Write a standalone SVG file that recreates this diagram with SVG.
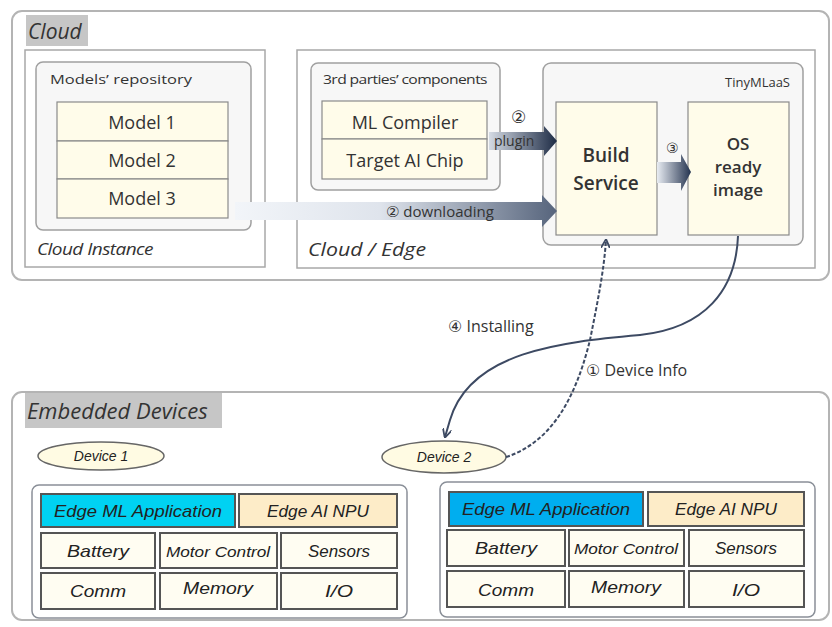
<svg xmlns="http://www.w3.org/2000/svg" width="832" height="627" viewBox="0 0 832 627">
<defs>
  <linearGradient id="gDown" x1="0" y1="0" x2="1" y2="0">
    <stop offset="0" stop-color="#f2f5f9"/>
    <stop offset="0.45" stop-color="#dfe4ec"/>
    <stop offset="1" stop-color="#56647c"/>
  </linearGradient>
  <linearGradient id="gPlug" x1="0" y1="0" x2="1" y2="0">
    <stop offset="0" stop-color="#d5dbe4"/>
    <stop offset="1" stop-color="#1d2b45"/>
  </linearGradient>
  <linearGradient id="g3" x1="0" y1="0" x2="1" y2="0">
    <stop offset="0" stop-color="#e8ecf2"/>
    <stop offset="1" stop-color="#24334f"/>
  </linearGradient>
  <marker id="ah" viewBox="0 0 10 10" refX="9" refY="5" markerWidth="9" markerHeight="9" orient="auto" markerUnits="userSpaceOnUse">
    <path d="M0,0 L10,5 L0,10" fill="none" stroke="#3d4a63" stroke-width="2"/>
  </marker>
  <style>
    .outer{fill:#fff;stroke:#b4b4b4;stroke-width:2}
    .panel{fill:#fff;stroke:#a8a8a8;stroke-width:1.5}
    .inner{fill:#f7f7f7;stroke:#a0a0a0;stroke-width:1.5}
    .cell{fill:#fffcea;stroke:#8a8a8a;stroke-width:1.2}
    .comp{fill:#fffdf2;stroke:#555;stroke-width:2}
    .t{font-family:"Open Sans","DejaVu Sans",sans-serif;fill:#333}
    .it{font-family:"Open Sans","DejaVu Sans",sans-serif;font-style:italic;fill:#333}
    .dev{font-family:"Liberation Sans","DejaVu Sans",sans-serif;font-style:italic;fill:#222;font-size:17px;text-anchor:middle}
    .lbl{fill:#c6c6c6}
    .conn{fill:none;stroke:#3d4a63;stroke-width:2}
  </style>
</defs>

<!-- Cloud region -->
<g id="cloud">
  <rect class="outer" x="12" y="11" width="817" height="269" rx="10"/>
  <rect class="lbl" x="26" y="15" width="62" height="31"/>
  <text class="it" x="28" y="39" font-size="21" fill="#444">Cloud</text>
</g>

<g id="cloud-instance">
  <rect class="panel" x="25" y="50" width="240" height="217"/>
  <text class="it" x="37" y="255" font-size="17" textLength="116" lengthAdjust="spacingAndGlyphs" letter-spacing="-0.5">Cloud Instance</text>
</g>

<g id="models-repository">
  <rect class="inner" x="36" y="62" width="215" height="168" rx="7"/>
  <text class="t" x="50" y="84" font-size="13" textLength="142" lengthAdjust="spacingAndGlyphs">Models’ repository</text>
</g>
<g id="model1">
  <rect class="cell" x="57" y="102" width="171" height="39"/>
  <text class="t" x="142" y="129" font-size="18" text-anchor="middle">Model 1</text>
</g>
<g id="model2">
  <rect class="cell" x="57" y="141" width="171" height="38"/>
  <text class="t" x="142" y="167" font-size="18" text-anchor="middle">Model 2</text>
</g>
<g id="model3">
  <rect class="cell" x="57" y="179" width="171" height="39"/>
  <text class="t" x="142" y="205" font-size="18" text-anchor="middle">Model 3</text>
</g>

<g id="cloud-edge">
  <rect class="panel" x="297" y="50" width="518" height="218"/>
  <text class="it" x="308" y="256" font-size="19" textLength="118" lengthAdjust="spacingAndGlyphs">Cloud / Edge</text>
</g>

<g id="third-parties">
  <rect class="inner" x="311" y="63" width="189" height="127" rx="7"/>
  <text class="t" x="323" y="84" font-size="13" textLength="164" lengthAdjust="spacingAndGlyphs" letter-spacing="-0.5">3rd parties’ components</text>
</g>
<g id="ml-compiler">
  <rect class="cell" x="322" y="101" width="165" height="38"/>
  <text class="t" x="405" y="129" font-size="18" text-anchor="middle">ML Compiler</text>
</g>
<g id="target-ai-chip">
  <rect class="cell" x="322" y="139" width="165" height="40"/>
  <text class="t" x="405" y="167" font-size="18" text-anchor="middle">Target AI Chip</text>
</g>

<g id="tinymlaas">
  <rect class="inner" x="543" y="63" width="260" height="182" rx="8"/>
  <text class="t" x="790" y="87" font-size="13" text-anchor="end">TinyMLaaS</text>
</g>
<g id="build-service">
  <rect class="cell" x="556" y="102" width="101" height="133"/>
  <text class="t" x="606" y="162" font-size="19" font-weight="600" text-anchor="middle">Build</text>
  <text class="t" x="606" y="190" font-size="19" font-weight="600" text-anchor="middle">Service</text>
</g>
<g id="os-ready-image">
  <rect class="cell" x="688" y="102" width="101" height="133"/>
  <text class="t" x="738" y="150" font-size="17" font-weight="600" text-anchor="middle">OS</text>
  <text class="t" x="738" y="173" font-size="17" font-weight="600" text-anchor="middle">ready</text>
  <text class="t" x="738" y="196" font-size="17" font-weight="600" text-anchor="middle">image</text>
</g>

<!-- Embedded devices region -->
<g id="embedded-devices">
  <rect class="outer" x="12" y="392" width="817" height="228" rx="10"/>
  <rect class="lbl" x="25" y="393" width="197" height="35"/>
  <text class="it" x="27" y="419" font-size="22" fill="#444">Embedded Devices</text>
</g>

<g id="device1">
  <ellipse cx="101" cy="456" rx="63" ry="14" fill="#fffbe3" stroke="#666" stroke-width="1.5"/>
  <text class="dev" x="101" y="461" style="font-size:14px">Device 1</text>
</g>
<g id="device2">
  <ellipse cx="444" cy="457" rx="62" ry="16" fill="#fffbe3" stroke="#666" stroke-width="1.5"/>
  <text class="dev" x="444" y="462" style="font-size:14px">Device 2</text>
</g>

<g id="device1-platform">
  <rect class="inner" x="32" y="485" width="375" height="133" rx="7" style="fill:#fff;stroke:#8a8f98"/>
  <rect class="comp" x="41" y="494" width="194" height="33" style="fill:#00d2f2"/>
  <text class="dev" x="138" y="517" textLength="168" lengthAdjust="spacingAndGlyphs">Edge ML Application</text>
  <rect class="comp" x="239" y="494" width="158" height="33" style="fill:#fdecc8"/>
  <text class="dev" x="318" y="517" textLength="102" lengthAdjust="spacingAndGlyphs">Edge AI NPU</text>
  <rect class="comp" x="41" y="533" width="114" height="35"/>
  <text class="dev" x="98" y="557" textLength="62" lengthAdjust="spacingAndGlyphs">Battery</text>
  <rect class="comp" x="160" y="533" width="117" height="35"/>
  <text class="dev" x="218" y="557" textLength="104" lengthAdjust="spacingAndGlyphs" style="font-size:15px">Motor Control</text>
  <rect class="comp" x="281" y="533" width="116" height="35"/>
  <text class="dev" x="339" y="557" textLength="62" lengthAdjust="spacingAndGlyphs">Sensors</text>
  <rect class="comp" x="41" y="573" width="114" height="36"/>
  <text class="dev" x="98" y="597" textLength="56" lengthAdjust="spacingAndGlyphs">Comm</text>
  <rect class="comp" x="160" y="573" width="117" height="36"/>
  <text class="dev" x="218" y="594" textLength="70" lengthAdjust="spacingAndGlyphs">Memory</text>
  <rect class="comp" x="281" y="573" width="116" height="36"/>
  <text class="dev" x="339" y="597" textLength="28" lengthAdjust="spacingAndGlyphs">I/O</text>
</g>

<g id="device2-platform">
  <rect class="inner" x="440" y="482" width="375" height="135" rx="7" style="fill:#fff;stroke:#8a8f98"/>
  <rect class="comp" x="449" y="492" width="194" height="34" style="fill:#00aeef"/>
  <text class="dev" x="546" y="515" textLength="168" lengthAdjust="spacingAndGlyphs">Edge ML Application</text>
  <rect class="comp" x="648" y="492" width="156" height="34" style="fill:#fdecc8"/>
  <text class="dev" x="726" y="515" textLength="102" lengthAdjust="spacingAndGlyphs">Edge AI NPU</text>
  <rect class="comp" x="447" y="530" width="118" height="36"/>
  <text class="dev" x="506" y="554" textLength="62" lengthAdjust="spacingAndGlyphs">Battery</text>
  <rect class="comp" x="569" y="530" width="115" height="36"/>
  <text class="dev" x="626" y="554" textLength="104" lengthAdjust="spacingAndGlyphs" style="font-size:15px">Motor Control</text>
  <rect class="comp" x="689" y="530" width="115" height="36"/>
  <text class="dev" x="746" y="554" textLength="62" lengthAdjust="spacingAndGlyphs">Sensors</text>
  <rect class="comp" x="447" y="571" width="118" height="36"/>
  <text class="dev" x="506" y="596" textLength="56" lengthAdjust="spacingAndGlyphs">Comm</text>
  <rect class="comp" x="569" y="571" width="115" height="36"/>
  <text class="dev" x="626" y="593" textLength="70" lengthAdjust="spacingAndGlyphs">Memory</text>
  <rect class="comp" x="689" y="571" width="115" height="36"/>
  <text class="dev" x="746" y="596" textLength="28" lengthAdjust="spacingAndGlyphs">I/O</text>
</g>

<!-- Connectors -->
<g id="connectors">
  <!-- downloading -->
  <path d="M235,202 L542,202 L542,195 L557,211 L542,227 L542,220 L235,220 Z" fill="url(#gDown)"/>
  <text class="t" x="386" y="217" font-size="15" fill="#3a3f4a">② downloading</text>
  <!-- plugin -->
  <path d="M489,132 L544,132 L544,126 L557,141 L544,156 L544,150 L489,150 Z" fill="url(#gPlug)"/>
  <text class="t" x="511" y="123" font-size="17" fill="#3a3f4a">②</text>
  <text class="t" x="494" y="146" font-size="14" fill="#333">plugin</text>
  <!-- step 3 -->
  <path d="M657,162 L681,162 L681,154 L691,172 L681,191 L681,183 L657,183 Z" fill="url(#g3)"/>
  <text class="t" x="666" y="153" font-size="14" fill="#333">③</text>
  <!-- installing -->
  <path class="conn" d="M738,236 C736,290 705,328 640,335 C560,342 470,352 450,420 L445,437" marker-end="url(#ah)"/>
  <text class="t" x="448" y="332" font-size="16" fill="#444">④ Installing</text>
  <!-- device info -->
  <path class="conn" d="M506,457 C560,440 580,380 590,340 C598,300 604,270 606,240" stroke-dasharray="4,2" marker-end="url(#ah)"/>
  <text class="t" x="586" y="376" font-size="16" fill="#444">① Device Info</text>
</g>
</svg>
